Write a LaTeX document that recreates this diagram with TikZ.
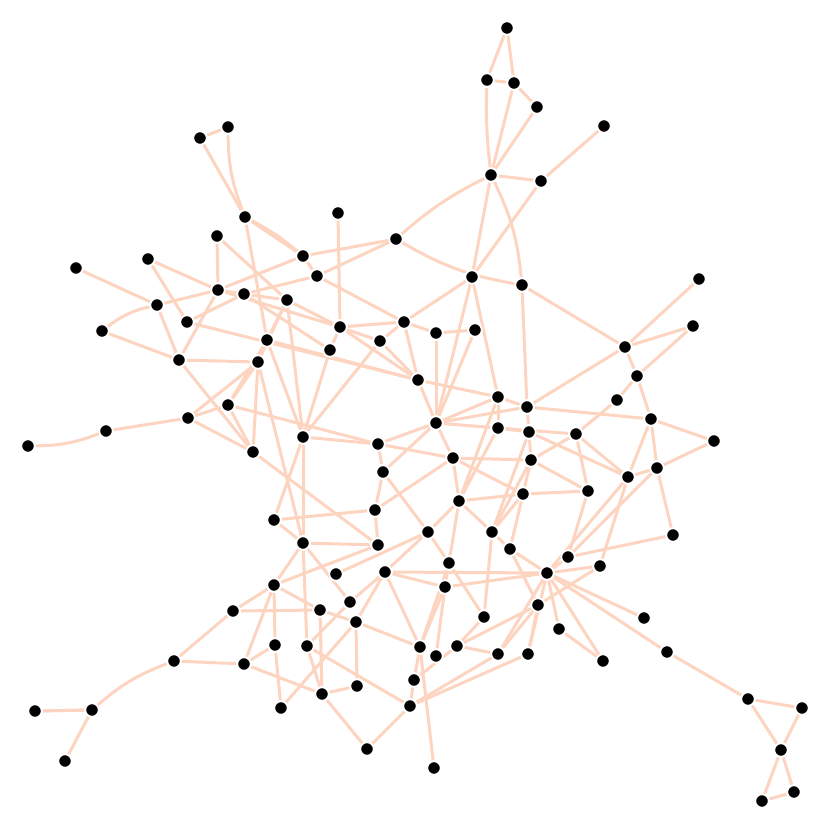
\documentclass[tikz,border=0pt]{standalone}
\pgfdeclarelayer{bg}
\pgfsetlayers{bg,main}
\definecolor{edgec}{RGB}{253,212,192}
\begin{document}
\begin{tikzpicture}[x=1pt,y=-1pt,
  dot/.style={circle,fill=black,draw=white,line width=1.8pt,inner sep=0pt,minimum size=13.5pt},
  edge/.style={draw=edgec,line width=3pt}]
\useasboundingbox (0,0) rectangle (830,830);
\foreach \i/\x/\y in {1/507/28,2/487/80,3/514/83,4/537/107,5/604/126,6/491/175,7/541/181,8/200/138,9/228/127,10/245/217,
11/338/213,12/396/239,13/217/236,14/303/256,15/148/259,16/76/268,17/317/276,18/472/277,19/522/285,20/699/279,
21/218/290,22/244/294,23/287/300,24/157/305,25/187/322,26/102/331,27/340/327,28/404/322,29/436/333,30/475/330,
31/693/326,32/267/340,33/330/350,34/380/341,35/625/347,36/179/360,37/258/362,38/418/380,39/637/376,40/498/397,
41/527/407,42/617/400,43/228/405,44/188/418,45/106/431,46/28/446,47/436/423,48/651/419,49/303/437,50/378/444,
51/498/428,52/529/432,53/576/434,54/714/441,55/253/452,56/453/458,57/383/472,58/531/460,59/657/468,60/628/477,
61/523/494,62/588/491,63/459/501,64/375/510,65/274/520,66/673/535,67/428/532,68/492/532,69/303/543,70/378/545,
71/510/549,72/568/557,73/600/566,74/449/563,75/336/574,76/385/572,77/547/573,78/274/585,79/445/587,80/233/611,
81/350/602,82/320/610,83/538/605,84/484/617,85/644/618,86/356/622,88/559/629,89/275/645,90/307/646,
91/420/647,92/457/646,93/436/656,94/498/654,95/528/654,96/603/661,97/667/652,98/174/661,99/244/664,100/357/686,
101/322/694,102/414/680,103/281/708,104/410/706,105/35/711,106/92/710,107/65/761,108/367/749,109/434/768,110/748/699,
111/802/708,112/781/750,113/762/801,114/794/792}
  \node[dot] (n\i) at (\x,\y) {};
\begin{pgfonlayer}{bg}
\foreach \a/\b in {1/2,1/3,2/3,3/4,3/6,4/6,6/7,5/7,6/18,7/18,12/14,12/17,11/27,19/35,19/41,
8/9,8/10,10/14,10/32,13/21,13/23,15/21,15/25,16/24,24/36,24/21,26/36,25/22,25/38,32/38,21/22,22/23,14/17,17/22,14/21,21/27,22/33,23/32,23/27,23/49,23/37,
36/37,36/55,36/21,44/45,44/37,44/55,43/37,43/55,43/50,37/55,32/43,43/44,37/69,32/49,
17/28,27/28,27/34,28/34,18/28,28/38,38/47,29/30,29/47,18/47,18/40,27/38,33/49,34/49,49/50,49/65,49/69,27/33,34/38,28/29,30/47,38/40,
20/35,31/35,31/39,35/39,39/42,42/53,48/39,48/54,48/59,48/60,59/54,59/60,59/66,59/72,53/60,53/62,61/62,62/72,66/72,35/41,41/48,52/60,53/58,58/62,
40/41,40/51,40/63,40/47,41/47,41/52,47/51,51/63,51/53,51/52,52/58,52/68,47/56,56/58,56/61,56/63,56/64,50/56,58/61,58/68,61/63,61/68,61/71,63/67,63/68,63/74,57/67,67/74,67/75,67/76,68/71,68/84,71/77,71/83,72/77,73/77,73/83,60/73,
77/76,77/79,77/85,77/96,77/97,77/88,77/94,77/95,60/77,83/92,83/94,83/95,84/92,74/79,74/91,74/84,79/91,79/93,79/76,76/86,76/91,76/81,69/70,70/78,64/70,55/70,69/78,69/81,69/90,65/69,78/89,78/82,78/80,78/99,80/98,80/82,81/90,82/101,82/86,86/91,86/100,86/103,89/103,89/99,90/101,90/104,91/102,91/109,92/94,92/102,94/104,95/104,100/101,101/108,104/108,102/104,98/99,105/106,106/107,88/96,97/110,110/111,110/112,111/112,112/113,112/114,113/114,50/57,57/64,64/65,47/50,47/57,99/101}
  \draw[edge] (n\a) -- (n\b);
\foreach \a/\b/\c in {2/6/4,6/12/7,9/10/10,24/26/12,98/106/10,12/19/10,10/14/-6,106/105/0}
  \draw[edge] (n\a) to[bend right=\c] (n\b);
\foreach \a/\b in {6/19,45/46}
  \draw[edge] (n\a) to[bend left=10] (n\b);
\end{pgfonlayer}
\end{tikzpicture}
\end{document}
